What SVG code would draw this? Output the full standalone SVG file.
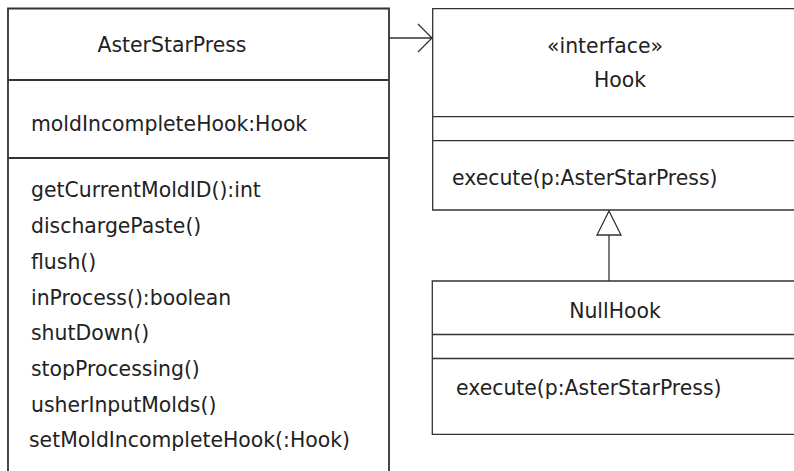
<svg xmlns="http://www.w3.org/2000/svg" width="794" height="471" viewBox="0 0 794 471">
<style>
text{font-family:"DejaVu Sans","Liberation Sans",sans-serif;font-size:20.4px;fill:#222}
.c{text-anchor:middle}
.b{fill:none;stroke:#333;stroke-width:1.3}
.lb{fill:none;stroke:#333;stroke-width:1.8}
</style>
<rect width="794" height="471" fill="#fff"/>
<g id="AsterStarPress">
<path class="lb" d="M8,471 V8.5 H389 V471 M8,80 H389 M8,158 H389"/>
<text class="c" x="172" y="52">AsterStarPress</text>
<text x="31" y="131">moldIncompleteHook:Hook</text>
<text x="31" y="197">getCurrentMoldID():int</text>
<text x="31" y="233">dischargePaste()</text>
<text x="31" y="269">flush()</text>
<text x="31" y="305">inProcess():boolean</text>
<text x="31" y="340">shutDown()</text>
<text x="31" y="376">stopProcessing()</text>
<text x="31" y="412">usherInputMolds()</text>
<text x="29" y="447">setMoldIncompleteHook(:Hook)</text>
</g>
<g id="Hook">
<path class="b" d="M794,8.7 H432.7 V210 H794 M432.7,116.7 H794 M432.7,140.7 H794"/>
<text class="c" x="605" y="53">«interface»</text>
<text class="c" x="620" y="87">Hook</text>
<text x="452" y="185">execute(p:AsterStarPress)</text>
</g>
<g id="NullHook">
<path class="b" d="M794,281 H432.3 V434.3 H794 M432.3,334.5 H794 M432.3,358.5 H794"/>
<text class="c" x="615" y="318">NullHook</text>
<text x="456" y="395">execute(p:AsterStarPress)</text>
</g>
<g id="connectors">
<path class="b" d="M389,38 H432 M418,24 L432,38 L418,52"/>
<path class="b" d="M609,281 V235"/>
<path class="b" d="M609,211 L621,235 H597 Z" fill="#fff"/>
</g>
</svg>
